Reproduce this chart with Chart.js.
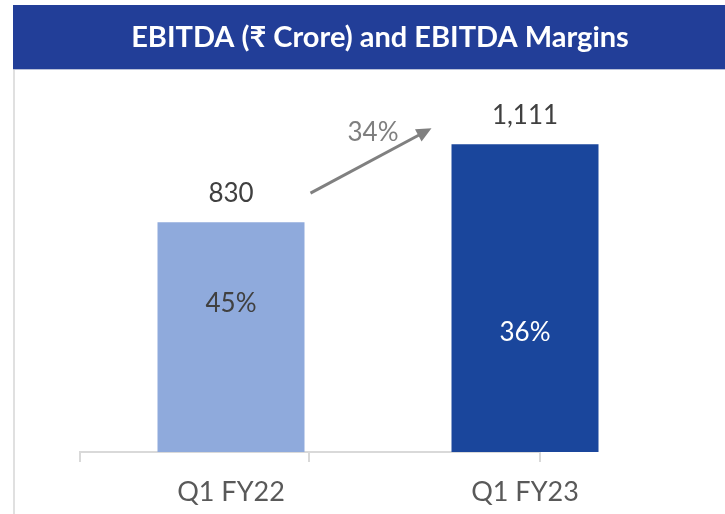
<!DOCTYPE html>
<html lang="en">
<head>
    <meta charset="UTF-8">
    <title>EBITDA (₹ Crore) and EBITDA Margins</title>
    <script src="https://cdn.jsdelivr.net/npm/chart.js"></script>
    <style>
        html, body { margin: 0; padding: 0; background: #fff; }
        #wrap { width: 725px; height: 514px; position: relative; }
    </style>
</head>
<body>
    <div id="wrap"><canvas id="ebitdaChart" width="725" height="514"></canvas></div>

    <script>
        const title = 'EBITDA (₹ Crore) and EBITDA Margins';
        const quarters = ['Q1 FY22', 'Q1 FY23'];
        const ebitda = [830, 1111];
        const ebitdaLabels = ['830', '1,111'];
        const margins = [45, 36];
        const growthLabel = '34%';
        const barColors = ['#8FAADC', '#1A469C'];
        const marginTextColors = ['#404040', '#FFFFFF'];

        const FONT = 'Lato, "Open Sans", "DejaVu Sans", sans-serif';

        // banner, left border and the short axis line with ticks
        const frame = {
            id: 'frame',
            beforeDraw(chart) {
                const ctx = chart.ctx;
                ctx.save();
                ctx.fillStyle = '#223E98';
                ctx.fillRect(13, 5, 712, 65);
                ctx.fillStyle = '#B8BFD8';
                ctx.fillRect(13, 69, 712, 1);
                ctx.fillStyle = '#FFFFFF';
                ctx.font = 'bold 29px ' + FONT;
                ctx.textAlign = 'center';
                ctx.textBaseline = 'middle';
                ctx.fillText(title, 380, 38);

                ctx.fillStyle = '#E0E0E0';
                ctx.fillRect(13, 70, 2, 444);

                const y = chart.chartArea.bottom;
                ctx.strokeStyle = '#D9D9D9';
                ctx.lineWidth = 2;
                ctx.beginPath();
                ctx.moveTo(80, y + 10);
                ctx.lineTo(80, y);
                ctx.lineTo(540, y);
                ctx.lineTo(540, y + 10);
                ctx.moveTo(309, y);
                ctx.lineTo(309, y + 10);
                ctx.stroke();
                ctx.restore();
            }
        };

        const labels = {
            id: 'labels',
            afterDatasetsDraw(chart) {
                const ctx = chart.ctx;
                const bars = chart.getDatasetMeta(0).data;
                const pts = chart.getDatasetMeta(1).data;
                ctx.save();
                ctx.font = '26px ' + FONT;
                ctx.textAlign = 'center';
                ctx.textBaseline = 'alphabetic';
                bars.forEach((b, i) => {
                    ctx.fillStyle = '#404040';
                    ctx.fillText(ebitdaLabels[i], b.x, b.y - 20);
                    ctx.fillStyle = marginTextColors[i];
                    ctx.textBaseline = 'middle';
                    ctx.fillText(margins[i] + '%', pts[i].x, pts[i].y);
                    ctx.textBaseline = 'alphabetic';
                });

                // growth arrow between the bars
                const b0 = bars[0], b1 = bars[1];
                const x0 = b0.x + b0.width / 2 + 6, y0 = b0.y - 29;
                const x1 = b1.x - b1.width / 2 - 20, y1 = b1.y - 16;
                const ang = Math.atan2(y1 - y0, x1 - x0);
                const head = 15;
                ctx.strokeStyle = '#808080';
                ctx.fillStyle = '#808080';
                ctx.lineWidth = 3;
                ctx.beginPath();
                ctx.moveTo(x0, y0);
                ctx.lineTo(x1 - head * 0.8 * Math.cos(ang), y1 - head * 0.8 * Math.sin(ang));
                ctx.stroke();
                ctx.beginPath();
                ctx.moveTo(x1, y1);
                ctx.lineTo(x1 - head * Math.cos(ang) + 7 * Math.sin(ang), y1 - head * Math.sin(ang) - 7 * Math.cos(ang));
                ctx.lineTo(x1 - head * Math.cos(ang) - 7 * Math.sin(ang), y1 - head * Math.sin(ang) + 7 * Math.cos(ang));
                ctx.closePath();
                ctx.fill();
                ctx.fillStyle = '#7F7F7F';
                ctx.fillText(growthLabel, (x0 + x1) / 2 + 2, y1 + 13);
                ctx.restore();
            }
        };

        new Chart(document.getElementById('ebitdaChart'), {
            type: 'bar',
            data: {
                labels: quarters,
                datasets: [
                    {
                        label: 'EBITDA',
                        data: ebitda,
                        backgroundColor: barColors,
                        categoryPercentage: 1,
                        barPercentage: 0.5,
                        yAxisID: 'y',
                        order: 2
                    },
                    {
                        type: 'line',
                        label: 'EBITDA Margin',
                        data: margins,
                        yAxisID: 'y1',
                        showLine: false,
                        pointRadius: 0,
                        order: 1
                    }
                ]
            },
            options: {
                responsive: false,
                animation: false,
                layout: { padding: { left: 84, right: 53, top: 92, bottom: 0 } },
                plugins: { legend: { display: false }, tooltip: { enabled: false } },
                scales: {
                    x: {
                        grid: { display: false, drawTicks: false },
                        border: { display: false },
                        ticks: { color: '#595959', font: { family: FONT, size: 27 }, padding: 24 },
                        afterFit(scale) { scale.height = 62; }
                    },
                    y: { display: false, min: 0, max: 1300 },
                    y1: { display: false, min: 0, max: 109 }
                }
            },
            plugins: [frame, labels]
        });
    </script>
</body>
</html>
